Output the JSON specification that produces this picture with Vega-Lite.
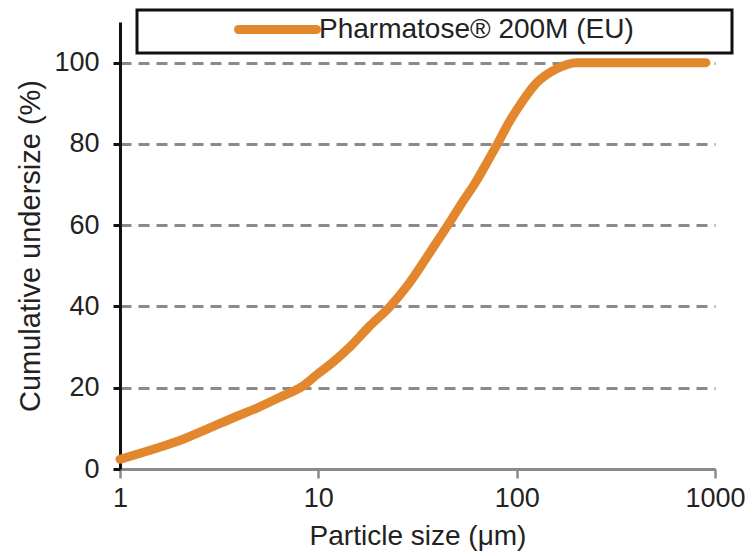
{
  "$schema": "https://vega.github.io/schema/vega-lite/v6.json",
  "width": 595,
  "height": 447,
  "autosize": "none",
  "padding": {"left": 120, "top": 22, "right": 39, "bottom": 87},
  "background": "white",
  "config": {
    "view": {"stroke": null},
    "font": "Liberation Sans"
  },
  "data": {
    "values": [
      {"size": 1, "cum": 2.4, "series": "Pharmatose® 200M (EU)"},
      {"size": 1.5, "cum": 5, "series": "Pharmatose® 200M (EU)"},
      {"size": 2, "cum": 7, "series": "Pharmatose® 200M (EU)"},
      {"size": 2.8, "cum": 10, "series": "Pharmatose® 200M (EU)"},
      {"size": 3.8, "cum": 12.8, "series": "Pharmatose® 200M (EU)"},
      {"size": 4.9, "cum": 15, "series": "Pharmatose® 200M (EU)"},
      {"size": 6.5, "cum": 17.8, "series": "Pharmatose® 200M (EU)"},
      {"size": 8.4, "cum": 20.5, "series": "Pharmatose® 200M (EU)"},
      {"size": 10, "cum": 23.5, "series": "Pharmatose® 200M (EU)"},
      {"size": 12, "cum": 26.5, "series": "Pharmatose® 200M (EU)"},
      {"size": 14.4, "cum": 30, "series": "Pharmatose® 200M (EU)"},
      {"size": 18, "cum": 35, "series": "Pharmatose® 200M (EU)"},
      {"size": 23, "cum": 40, "series": "Pharmatose® 200M (EU)"},
      {"size": 28, "cum": 45, "series": "Pharmatose® 200M (EU)"},
      {"size": 33, "cum": 50, "series": "Pharmatose® 200M (EU)"},
      {"size": 38.5, "cum": 55, "series": "Pharmatose® 200M (EU)"},
      {"size": 45, "cum": 60, "series": "Pharmatose® 200M (EU)"},
      {"size": 53, "cum": 65.5, "series": "Pharmatose® 200M (EU)"},
      {"size": 62, "cum": 70.5, "series": "Pharmatose® 200M (EU)"},
      {"size": 71, "cum": 75.5, "series": "Pharmatose® 200M (EU)"},
      {"size": 80, "cum": 80, "series": "Pharmatose® 200M (EU)"},
      {"size": 92, "cum": 85.5, "series": "Pharmatose® 200M (EU)"},
      {"size": 107, "cum": 90.5, "series": "Pharmatose® 200M (EU)"},
      {"size": 126, "cum": 95, "series": "Pharmatose® 200M (EU)"},
      {"size": 159, "cum": 98.5, "series": "Pharmatose® 200M (EU)"},
      {"size": 200, "cum": 100, "series": "Pharmatose® 200M (EU)"},
      {"size": 400, "cum": 100, "series": "Pharmatose® 200M (EU)"},
      {"size": 900, "cum": 100, "series": "Pharmatose® 200M (EU)"}
    ]
  },
  "mark": {"type": "line", "strokeWidth": 9, "strokeCap": "round", "strokeJoin": "round", "interpolate": "monotone"},
  "encoding": {
    "x": {
      "field": "size",
      "type": "quantitative",
      "scale": {"type": "log", "domain": [1, 1000], "nice": false},
      "axis": {
        "title": "Particle size (μm)",
        "values": [1, 10, 100, 1000],
        "format": "d",
        "grid": false,
        "domainColor": "#8a8a8a",
        "domainWidth": 3,
        "tickColor": "#8a8a8a",
        "tickWidth": 2.5,
        "tickSize": 9,
        "labelFontSize": 27,
        "labelColor": "#222",
        "labelPadding": 7,
        "labelFlush": false,
        "titleFontSize": 28,
        "titleFontWeight": "normal",
        "titleColor": "#222",
        "titlePadding": 11
      }
    },
    "y": {
      "field": "cum",
      "type": "quantitative",
      "scale": {"domain": [0, 110], "nice": false},
      "axis": {
        "title": "Cumulative undersize (%)",
        "values": [0, 20, 40, 60, 80, 100],
        "grid": true,
        "gridColor": "#8a8a8a",
        "gridWidth": 3,
        "gridDash": [11, 7],
        "domainColor": "#111",
        "domainWidth": 3,
        "tickColor": "#111",
        "tickWidth": 3,
        "tickSize": 7,
        "labelFontSize": 27,
        "labelColor": "#222",
        "labelPadding": 14,
        "titleFontSize": 29,
        "titleFontWeight": "normal",
        "titleColor": "#222",
        "titlePadding": 8
      }
    },
    "color": {
      "field": "series",
      "type": "nominal",
      "scale": {"range": ["#E3872F"]},
      "legend": {
        "title": null,
        "orient": "none",
        "legendX": 17,
        "legendY": -12,
        "direction": "horizontal",
        "symbolType": "M-4,0H4M44.2,0",
        "symbolSize": 380,
        "symbolStrokeWidth": 9,
        "symbolOffset": 121,
        "labelFontSize": 28,
        "labelColor": "#222",
        "labelOffset": 27,
        "labelLimit": 700,
        "strokeColor": "#111",
        "padding": 5,
        "fillColor": "white",
        "encode": {
          "legend": {"update": {"strokeWidth": {"value": 3}}},
          "symbols": {"update": {"strokeCap": {"value": "round"}}}
        }
      }
    }
  }
}
